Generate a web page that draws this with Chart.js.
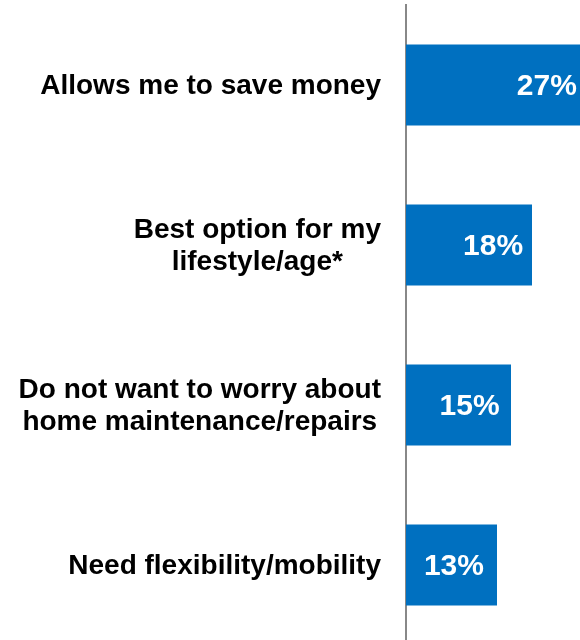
<!doctype html>
<html lang="en">
  <head>
    <meta charset="UTF-8" />
    <title>Reasons</title>
    <script src="https://cdn.jsdelivr.net/npm/chart.js"></script>
    <style>
      html,
      body {
        margin: 0;
        padding: 0;
        background: #fff;
        overflow: hidden;
        width: 580px;
        height: 640px;
      }
    </style>
  </head>
  <body>
    <canvas id="reasonChart" width="616" height="646"></canvas>

    <script>
      const categories = [
        "Allows me to save money",
        ["Best option for my", "lifestyle/age*"],
        ["Do not want to worry about", "home maintenance/repairs"],
        "Need flexibility/mobility",
      ];
      const shares = [27, 18, 15, 13];
      const valueLabels = ["27%", "18%", "15%", "13%"];

      const barBlue = "#0070C0";
      const fontFamily = "'Liberation Sans', Arial, Helvetica, sans-serif";

      // category labels: block right-aligned to the axis, lines centred within it
      const categoryLabelPlugin = {
        id: "categoryLabels",
        afterDraw(chart) {
          const { ctx } = chart;
          const yScale = chart.scales.y;
          const right = yScale.right - 25;
          const lineH = 32;
          ctx.save();
          ctx.fillStyle = "#000";
          ctx.font = "bold 28px " + fontFamily;
          ctx.textAlign = "center";
          ctx.textBaseline = "middle";
          categories.forEach((label, i) => {
            const lines = Array.isArray(label) ? label : [label];
            const blockW = Math.max(...lines.map((l) => ctx.measureText(l).width));
            const cx = right - blockW / 2;
            const cy = yScale.getPixelForTick(i);
            lines.forEach((line, j) => {
              const y = cy + (j - (lines.length - 1) / 2) * lineH;
              ctx.fillText(line, cx, y + 1);
            });
          });
          ctx.restore();
        },
      };

      // white value labels inside the bars
      const valueLabelPlugin = {
        id: "valueLabels",
        afterDatasetsDraw(chart) {
          const { ctx, chartArea } = chart;
          const meta = chart.getDatasetMeta(0);
          const visibleRight = Math.min(chartArea.right, window.innerWidth);
          ctx.save();
          ctx.fillStyle = "#fff";
          ctx.font = "bold 30px " + fontFamily;
          ctx.textAlign = "center";
          ctx.textBaseline = "middle";
          meta.data.forEach((bar, i) => {
            const w = Math.min(bar.x, visibleRight) - bar.base;
            const x = bar.base + 1.12 * w - 54;
            ctx.fillText(valueLabels[i], x, bar.y + 2);
          });
          ctx.restore();
        },
      };

      new Chart(document.getElementById("reasonChart"), {
        type: "bar",
        data: {
          labels: categories,
          datasets: [
            {
              data: shares,
              backgroundColor: barBlue,
              borderWidth: 0,
              barPercentage: 0.506,
              categoryPercentage: 1,
            },
          ],
        },
        options: {
          indexAxis: "y",
          responsive: false,
          animation: false,
          layout: { padding: { top: 5, bottom: 1, left: 0, right: 0 } },
          plugins: {
            legend: { display: false },
            tooltip: { enabled: false },
          },
          scales: {
            x: {
              display: false,
              min: 0,
              max: 30,
            },
            y: {
              grid: { display: false, drawTicks: false },
              border: { display: true, color: "#888", width: 2 },
              ticks: { display: false },
              afterFit(scale) {
                scale.width = 406;
                scale.paddingTop = 0;
                scale.paddingBottom = 0;
              },
            },
          },
        },
        plugins: [valueLabelPlugin, categoryLabelPlugin],
      });
    </script>
  </body>
</html>
